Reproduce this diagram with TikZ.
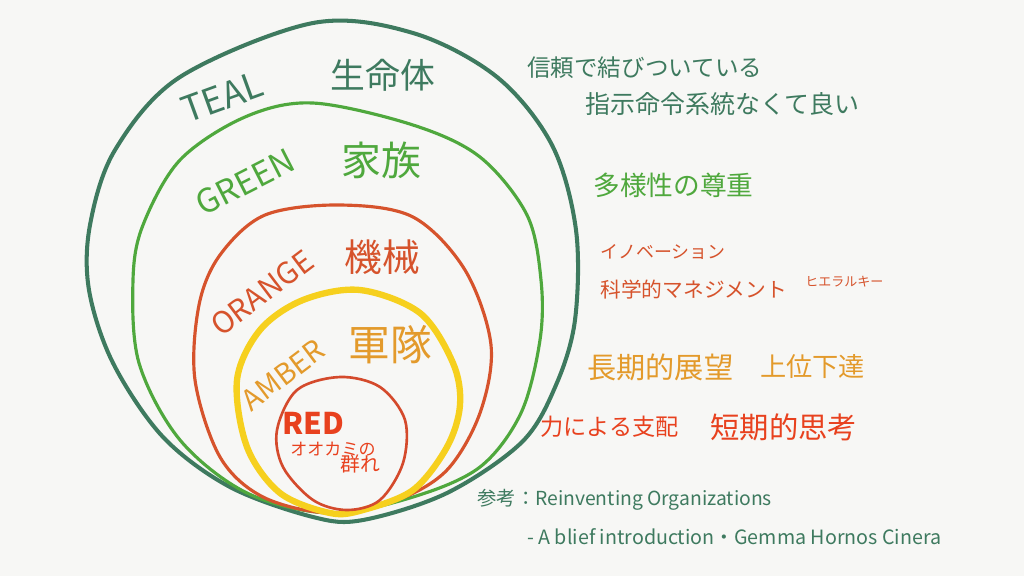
\documentclass[tikz,border=0pt]{standalone}
\usepackage{fontspec}
\setmainfont{Noto Sans CJK JP}
\definecolor{bg}{HTML}{F7F7F5}
\definecolor{tealc}{HTML}{3E7A5F}
\definecolor{greenc}{HTML}{4FA83D}
\definecolor{orangec}{HTML}{D6532C}
\definecolor{ambert}{HTML}{E39A2B}
\definecolor{amberc}{HTML}{F6D01E}
\definecolor{redt}{HTML}{E8411E}
\definecolor{redc}{HTML}{D44A2C}
\tikzset{
  ring/.style={line cap=round,line join=round},
  lbl/.style={inner sep=0pt,font=\fontsize{#1}{#1}\selectfont},
  note/.style={inner sep=0pt,anchor=west,font=\fontsize{#1}{#1}\selectfont},
}
\begin{document}
\begin{tikzpicture}[x=0.02cm,y=-0.02cm]
\fill[bg] (0,0) rectangle (1024,576);
\useasboundingbox (0,0) rectangle (1024,576);
% rings
\draw[ring,tealc,line width=2.3pt] plot[smooth cycle,tension=0.55] coordinates {(313,23) (413,33) (497,77) (552,145) (576,230) (575,320) (556,385) (522,442) (447,493) (363,520) (313,517) (230,487) (163,437) (113,363) (89,290) (90,225) (115,150) (180,77)};
\draw[ring,greenc,line width=1.8pt] plot[smooth cycle,tension=0.55] coordinates {(313,103) (413,125) (480,157) (527,215) (541,280) (540,340) (521,413) (480,467) (413,497) (330,513) (247,493) (180,440) (139,363) (133,280) (143,225) (180,160) (245,117)};
\draw[ring,orangec,line width=1.8pt] plot[smooth cycle,tension=0.55] coordinates {(340,205) (413,217) (465,270) (491,345) (480,413) (447,470) (397,500) (330,513) (263,497) (220,457) (195,380) (199,305) (220,255) (265,215)};
\draw[ring,amberc,line width=3.6pt] plot[smooth cycle,tension=0.55] coordinates {(360,290) (420,313) (453,363) (460,405) (447,447) (413,490) (363,510) (330,513) (280,493) (247,447) (237,380) (260,330) (303,300)};
\draw[ring,redc,line width=1.5pt] plot[smooth cycle,tension=0.55] coordinates {(340,377) (380,387) (405,420) (403,463) (380,500) (347,510) (313,500) (283,467) (277,430) (297,390)};
% ring labels
\node[lbl=20.4pt,text=tealc,rotate=20] (teal) at (222,97) {TEAL};
\node[lbl=19.8pt,text=tealc] (tealjp) at (383,75) {生命体};
\node[lbl=18.7pt,text=greenc,rotate=27] (green) at (245,182) {GREEN};
\node[lbl=22.7pt,text=greenc] (greenjp) at (381,160) {家族};
\node[lbl=17pt,text=orangec,rotate=37] (orange) at (262,293) {ORANGE};
\node[lbl=21.5pt,text=orangec] (orangejp) at (382,257) {機械};
\node[lbl=16.4pt,text=ambert,rotate=37] (amber) at (283,375) {AMBER};
\node[lbl=23.8pt,text=ambert] (amberjp) at (390,345) {軍隊};
\node[lbl=17pt,text=redt,font=\fontsize{17pt}{17pt}\selectfont\bfseries] (red) at (313,423) {RED};
\node[lbl=9.7pt,text=redt] (wolf) at (333,449) {オオカミの};
\node[lbl=11.3pt,text=redt] (pack) at (360,464) {群れ};
% notes
\node[note=13.4pt,text=tealc] (t1) at (527,68) {信頼で結びついている};
\node[note=14.2pt,text=tealc] (t2) at (585,104) {指示命令系統なくて良い};
\node[note=15.2pt,text=greenc] (g1) at (593,185) {多様性の尊重};
\node[note=10.2pt,text=orangec] (o1) at (600,252) {イノベーション};
\node[note=11.8pt,text=orangec] (o2) at (600,290) {科学的マネジメント};
\node[note=7.4pt,text=orangec] (o3) at (805,282) {ヒエラルキー};
\node[note=16.6pt,text=ambert] (a1) at (587,367) {長期的展望};
\node[note=14.9pt,text=ambert] (a2) at (760,367) {上位下達};
\node[note=13.2pt,text=redt] (r1) at (540,427) {力による支配};
\node[note=16.7pt,text=redt] (r2) at (710,427) {短期的思考};
\node[note=11pt,text=tealc] (ref1) at (477,500) {参考：Reinventing Organizations};
\node[note=11.2pt,text=tealc] (ref2) at (527,537) {- A blief introduction・Gemma Hornos Cinera};
\end{tikzpicture}
\end{document}
